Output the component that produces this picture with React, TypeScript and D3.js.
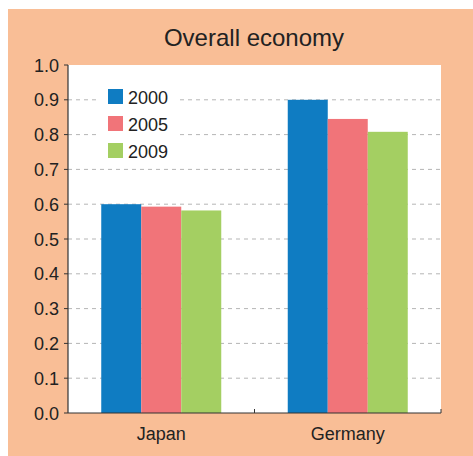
import React from "react";
import * as d3 from "d3";

const categories = ["Japan", "Germany"];
const seriesNames = ["2000", "2005", "2009"];
const values2000 = [0.6, 0.9];
const values2005 = [0.593, 0.845];
const values2009 = [0.582, 0.808];
const yTicks = [0, 0.1, 0.2, 0.3, 0.4, 0.5, 0.6, 0.7, 0.8, 0.9, 1.0];
const colors = ["#0f7cc2", "#f17479", "#a4cf62"];

export default function App() {
  const W = 473, H = 456;
  const left = 68, right = 441, top = 65, bottom = 413;
  const x = d3.scaleBand<string>().domain(categories).range([left, right]).paddingInner(0).paddingOuter(0);
  const x1 = d3.scaleBand<string>().domain(seriesNames).range([0, 120]);
  const y = d3.scaleLinear().domain([0, 1]).range([bottom, top]);
  const series = [values2000, values2005, values2009];
  const font = "'Liberation Sans', Arial, Helvetica, sans-serif";
  const bandOffset = (x.bandwidth() - 120) / 2;

  return (
    <svg width={W} height={H} style={{ position: "absolute", left: 0, top: 0 }} fontFamily={font}>
      <rect x={8} y={9} width={W - 8} height={447} fill="#f9be96" />
      <text x={254} y={46} textAnchor="middle" fontSize={24} fill="#222">Overall economy</text>
      <rect x={left} y={top} width={right - left} height={bottom - top} fill="#fff" />
      {yTicks.filter(t => t > 0 && t < 1).map(t => (
        <line key={t} x1={left} x2={right} y1={y(t)} y2={y(t)} stroke="#b5b5b5" strokeWidth={1} strokeDasharray="4,4" />
      ))}
      <rect x={100} y={84} width={78} height={78} fill="#fff" />
      {categories.map((c, ci) => (
        <g key={c}>
          {series.map((vals, si) => (
            <rect key={si}
              x={(x(c) as number) + bandOffset + (x1(seriesNames[si]) as number)}
              y={y(vals[ci])}
              width={x1.bandwidth()}
              height={bottom - y(vals[ci])}
              fill={colors[si]} />
          ))}
          <text x={(x(c) as number) + x.bandwidth() / 2} y={440} textAnchor="middle" fontSize={18} fill="#222">{c}</text>
        </g>
      ))}
      {seriesNames.map((s, i) => (
        <g key={s}>
          <rect x={108} y={89 + i * 27} width={15} height={15} fill={colors[i]} />
          <text x={128} y={104 + i * 27} fontSize={18} fill="#222">{s}</text>
        </g>
      ))}
      <line x1={left} x2={left} y1={top} y2={bottom} stroke="#333" strokeWidth={1.2} />
      <line x1={left} x2={right} y1={bottom} y2={bottom} stroke="#333" strokeWidth={1.2} />
      {yTicks.map(t => (
        <g key={t}>
          <line x1={left - 4} x2={left} y1={y(t)} y2={y(t)} stroke="#333" strokeWidth={1} />
          <text x={59} y={y(t) + 6.5} textAnchor="end" fontSize={18} fill="#222">{t.toFixed(1)}</text>
        </g>
      ))}
      {[x.step() + left, right].map((v, i) => (
        <line key={i} x1={v} x2={v} y1={bottom} y2={bottom - 4} stroke="#333" strokeWidth={1} />
      ))}
    </svg>
  );
}
